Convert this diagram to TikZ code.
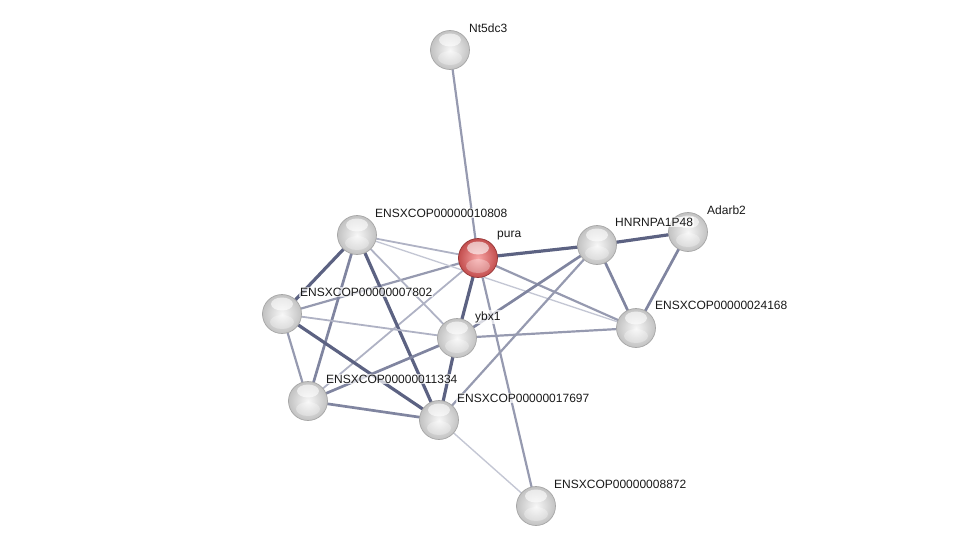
\documentclass[tikz,border=0pt]{standalone}
\usepackage{fontspec}
\setmainfont{Liberation Sans}
\usetikzlibrary{calc}
\tikzset{
  hilite/.style={path picture={
     \fill[white, opacity=0.6] ($(path picture bounding box.center)+(0pt,10pt)$) ellipse (11pt and 6.5pt);
     \fill[white, opacity=0.3] ($(path picture bounding box.center)+(0pt,-8pt)$) ellipse (12pt and 7pt);}},
  prot/.style={circle, minimum size=39pt, inner sep=0pt, shading=radial, inner color=gray!6, outer color=gray!48, draw=gray!70, line width=0.7pt, hilite},
  query/.style={prot, inner color={rgb,255:red,248;green,165;blue,165}, outer color={rgb,255:red,195;green,78;blue,78}, draw={rgb,255:red,150;green,55;blue,55}},
  lbl/.style={anchor=west, inner sep=1pt, fill=white, fill opacity=0.7, text opacity=1, font=\fontsize{12}{14}\selectfont, text=black!90},
  edark/.style={draw={rgb,255:red,92;green,98;blue,130}, line width=3.2pt},
  emed/.style={draw={rgb,255:red,128;green,133;blue,160}, line width=2.7pt},
  emedl/.style={draw={rgb,255:red,150;green,154;blue,176}, line width=2.2pt},
  elight/.style={draw={rgb,255:red,175;green,178;blue,196}, line width=1.8pt},
  evlight/.style={draw={rgb,255:red,196;green,199;blue,212}, line width=1.4pt},
}
\begin{document}
\begin{tikzpicture}[x=1pt,y=-1pt]
\useasboundingbox (0,0) rectangle (975,551);
% nodes positions
\coordinate (cNt) at (450,50);
\coordinate (cPura) at (478,258);
\coordinate (c10808) at (357,235);
\coordinate (c7802) at (282,314);
\coordinate (cYbx) at (457,338);
\coordinate (c11334) at (308,401);
\coordinate (c17697) at (439,420);
\coordinate (c8872) at (536,506);
\coordinate (cHn) at (597,245);
\coordinate (cAd) at (688,232);
\coordinate (c24168) at (636,328);
% edges
\draw[emedl] (cPura) -- (cNt);
\draw[elight] (cPura) -- (c10808);
\draw[emedl] (cPura) -- (c7802);
\draw[edark] (cPura) -- (cYbx);
\draw[elight] (cPura) -- (c11334);
\draw[emedl] (cPura) -- (c8872);
\draw[edark] (cPura) -- (cHn);
\draw[emedl] (cPura) -- (c24168);
\draw[edark] (c10808) -- (c7802);
\draw[emed] (c10808) -- (c11334);
\draw[edark] (c10808) -- (c17697);
\draw[elight] (c10808) -- (cYbx);
\draw[evlight] (c10808) -- (c24168);
\draw[elight] (c7802) -- (cYbx);
\draw[emedl] (c7802) -- (c11334);
\draw[edark] (c7802) -- (c17697);
\draw[emed] (c11334) -- (cYbx);
\draw[emed] (c11334) -- (c17697);
\draw[edark] (cYbx) -- (c17697);
\draw[emed] (cYbx) -- (cHn);
\draw[emedl] (cYbx) -- (c24168);
\draw[emedl] (c17697) -- (cHn);
\draw[evlight] (c17697) -- (c8872);
\draw[edark] (cHn) -- (cAd);
\draw[emed] (cHn) -- (c24168);
\draw[emed] (cAd) -- (c24168);
% protein nodes
\node[prot] (Nt) at (cNt) {};
\node[query] (Pura) at (cPura) {};
\node[prot] (n10808) at (c10808) {};
\node[prot] (n7802) at (c7802) {};
\node[prot] (Ybx) at (cYbx) {};
\node[prot] (n11334) at (c11334) {};
\node[prot] (n17697) at (c17697) {};
\node[prot] (n8872) at (c8872) {};
\node[prot] (Hn) at (cHn) {};
\node[prot] (Ad) at (cAd) {};
\node[prot] (n24168) at (c24168) {};
% labels
\node[lbl] (lNt) at ($(cNt)+(18,-22)$) {Nt5dc3};
\node[lbl] (lPura) at ($(cPura)+(18,-22)$) {pura};
\node[lbl] (l10808) at ($(c10808)+(17,-22)$) {ENSXCOP00000010808};
\node[lbl] (l7802) at ($(c7802)+(17,-22)$) {ENSXCOP00000007802};
\node[lbl] (lYbx) at ($(cYbx)+(17,-21)$) {ybx1};
\node[lbl] (l11334) at ($(c11334)+(17,-22)$) {ENSXCOP00000011334};
\node[lbl] (l17697) at ($(c17697)+(17,-22)$) {ENSXCOP00000017697};
\node[lbl] (l8872) at ($(c8872)+(17,-22)$) {ENSXCOP00000008872};
\node[lbl] (lHn) at ($(cHn)+(17,-23)$) {HNRNPA1P48};
\node[lbl] (lAd) at ($(cAd)+(18,-22)$) {Adarb2};
\node[lbl] (l24168) at ($(c24168)+(18,-23)$) {ENSXCOP00000024168};
\end{tikzpicture}
\end{document}
